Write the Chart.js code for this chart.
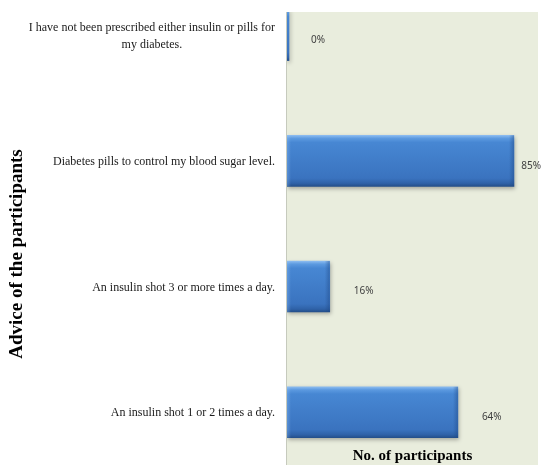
<!DOCTYPE html>
<html>
<head>
<meta charset="utf-8">
<script src="https://cdn.jsdelivr.net/npm/chart.js@4"></script>
<style>
	html, body { margin: 0; padding: 0; background: #fff; }
	#wrap { width: 544px; height: 465px; position: relative; }
</style>
</head>
<body>
<div id="wrap"><canvas id="advice-chart"></canvas></div>
<script>
// answers, top to bottom
const adviceLabels = [
	['I have not been prescribed either insulin or pills for', 'my diabetes.'],
	['Diabetes pills to control my blood sugar level.'],
	['An insulin shot 3 or more times a day.'],
	['An insulin shot 1 or 2 times a day.']
];
const participantPct = [0, 85, 16, 64];

const yTitle = 'Advice of the participants';
const xTitle = 'No. of participants';

const serif = '"Liberation Serif", "Times New Roman", serif';
const barHeight = 51;

// vertical bevel-ish fill for each bar
const barFill = ctx => {
	const chart = ctx.chart;
	if (!chart.chartArea || ctx.dataIndex === undefined) return '#3f7cc6';
	const mid = chart.scales.y.getPixelForValue(ctx.dataIndex);
	const half = barHeight / 2;
	const g = chart.ctx.createLinearGradient(0, mid - half, 0, mid + half);
	g.addColorStop(0, '#8cbcf0');
	g.addColorStop(0.06, '#5c9ae0');
	g.addColorStop(0.14, '#4787d3');
	g.addColorStop(0.84, '#3a73bf');
	g.addColorStop(0.94, '#2f62a8');
	g.addColorStop(1, '#244f8a');
	return g;
};

const plotBackground = {
	id: 'plotBackground',
	beforeDraw(chart) {
		const { ctx, chartArea } = chart;
		ctx.save();
		ctx.fillStyle = '#e9eddd';
		ctx.fillRect(chartArea.left, chartArea.top, chartArea.right - chartArea.left, chart.height - chartArea.top);
		ctx.strokeStyle = '#c6cabd';
		ctx.lineWidth = 1;
		ctx.beginPath();
		ctx.moveTo(chartArea.left - 0.5, chartArea.top);
		ctx.lineTo(chartArea.left - 0.5, chart.height);
		ctx.stroke();
		ctx.restore();
	}
};

const barShadow = {
	id: 'barShadow',
	beforeDatasetsDraw(chart) {
		const ctx = chart.ctx;
		ctx.save();
		ctx.shadowColor = 'rgba(40, 40, 40, 0.35)';
		ctx.shadowBlur = 4;
		ctx.shadowOffsetY = 2;
		ctx.shadowOffsetX = 1;
	},
	afterDatasetsDraw(chart) {
		chart.ctx.restore();
	}
};

// darker rim on the right end, light rim on the left end of each bar
const barRim = {
	id: 'barRim',
	afterDatasetsDraw(chart) {
		const { ctx } = chart;
		const meta = chart.getDatasetMeta(0);
		ctx.save();
		meta.data.forEach((bar, i) => {
			if (participantPct[i] === 0) return;
			const top = bar.y - bar.height / 2;
			const g = ctx.createLinearGradient(bar.x - 5, 0, bar.x, 0);
			g.addColorStop(0, 'rgba(30, 70, 130, 0)');
			g.addColorStop(1, 'rgba(30, 70, 130, 0.45)');
			ctx.fillStyle = g;
			ctx.fillRect(bar.x - 5, top, 5, bar.height);
			const h = ctx.createLinearGradient(bar.base, 0, bar.base + 4, 0);
			h.addColorStop(0, 'rgba(150, 195, 245, 0.35)');
			h.addColorStop(1, 'rgba(150, 195, 245, 0)');
			ctx.fillStyle = h;
			ctx.fillRect(bar.base, top, 4, bar.height);
		});
		ctx.restore();
	}
};

// category text on the left, lines centred within the block, block right-aligned
const categoryText = {
	id: 'categoryText',
	afterDraw(chart) {
		const { ctx, chartArea } = chart;
		const yScale = chart.scales.y;
		const right = chartArea.left - 12;
		const lh = 17;
		ctx.save();
		ctx.font = `12px ${serif}`;
		ctx.fillStyle = '#1a1a1a';
		ctx.textAlign = 'center';
		ctx.textBaseline = 'middle';
		adviceLabels.forEach((lines, i) => {
			const cy = yScale.getPixelForValue(i) + 1;
			const widest = Math.max(...lines.map(l => ctx.measureText(l).width));
			const cx = right - widest / 2;
			lines.forEach((line, j) => {
				ctx.fillText(line, cx, cy + (j - (lines.length - 1) / 2) * lh);
			});
		});

		// rotated axis title
		ctx.font = `bold 19px ${serif}`;
		ctx.fillStyle = '#000';
		ctx.translate(17, 254);
		ctx.rotate(-Math.PI / 2);
		ctx.fillText(yTitle, 0, 0);
		ctx.restore();
	}
};

const valueText = {
	id: 'valueText',
	afterDatasetsDraw(chart) {
		const { ctx } = chart;
		const meta = chart.getDatasetMeta(0);
		ctx.save();
		ctx.font = '10px "Noto Sans", "Open Sans", sans-serif';
		ctx.fillStyle = '#404040';
		ctx.textAlign = 'left';
		ctx.textBaseline = 'middle';
		meta.data.forEach((bar, i) => {
			const text = participantPct[i] + '%';
			const w = ctx.measureText(text).width;
			const end = chart.scales.x.getPixelForValue(participantPct[i]);
			const x = Math.min(end + 24, chart.width - w - 3);
			ctx.fillText(text, x, bar.y + 5);
		});
		ctx.restore();
	}
};

new Chart(document.getElementById('advice-chart'), {
	type: 'bar',
	data: {
		datasets: [{
			data: participantPct.map((v, i) => ({ x: v, y: i })),
			backgroundColor: barFill,
			borderWidth: 0,
			minBarLength: 2,
			barThickness: barHeight,
			clip: { left: 0, top: 0, right: 10, bottom: 12 }
		}]
	},
	options: {
		indexAxis: 'y',
		responsive: true,
		maintainAspectRatio: false,
		animation: false,
		layout: {
			padding: { left: 287, right: 6, top: 12, bottom: 0 }
		},
		plugins: {
			legend: { display: false },
			tooltip: { enabled: false }
		},
		scales: {
			x: {
				type: 'linear',
				min: 0,
				max: 94,
				grid: { display: false },
				border: { display: false },
				ticks: { display: false },
				title: {
					display: true,
					text: xTitle,
					color: '#000',
					font: { family: serif, size: 15, weight: 'bold' },
					padding: { top: 6, bottom: 0 }
				}
			},
			y: {
				type: 'linear',
				display: false,
				reverse: true,
				offset: false,
				min: -0.1835,
				max: 3.165,
				ticks: { stepSize: 1 }
			}
		}
	},
	plugins: [plotBackground, barShadow, barRim, categoryText, valueText]
});
</script>
</body>
</html>
